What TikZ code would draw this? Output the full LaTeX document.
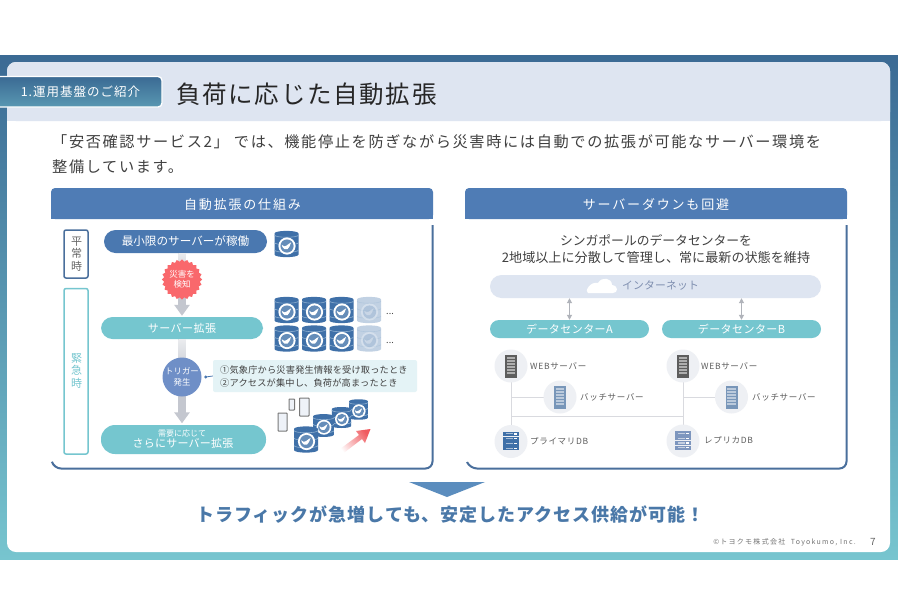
\documentclass[tikz,border=0pt]{standalone}
\usepackage{fontspec}
\setmainfont{Noto Sans CJK JP}
\usetikzlibrary{calc,arrows.meta,shapes.geometric}
\definecolor{bgtop}{HTML}{3B6A94}
\definecolor{bgbot}{HTML}{77C5CF}
\definecolor{band}{HTML}{DEE5F1}
\definecolor{hdr}{HTML}{4F7CB5}
\definecolor{frame}{HTML}{4A6F9C}
\definecolor{pillblue}{HTML}{4A78B0}
\definecolor{teal}{HTML}{75C6CF}
\definecolor{txt}{HTML}{404040}
\definecolor{grayarrow}{HTML}{C4C7CF}
\definecolor{dbblue}{HTML}{3F70A8}
\definecolor{dbline}{HTML}{8FB0D0}
\definecolor{disc}{HTML}{EEF0F4}
\definecolor{wire}{HTML}{D9DADF}
\definecolor{burstred}{HTML}{F9686C}
\definecolor{trigblue}{HTML}{6F8FC7}
\definecolor{condbg}{HTML}{E4F3F6}
\definecolor{redarrow}{HTML}{F05A5F}
\definecolor{inettxt}{HTML}{7F8FB0}
\definecolor{batch}{HTML}{7896B9}
\definecolor{replica}{HTML}{7D96BE}
\definecolor{tri}{HTML}{5B8DBE}
\definecolor{concl}{HTML}{4A78A8}
\newcommand{\fsz}[2]{\addfontfeature{LetterSpace=#1}\fontsize{#2}{#2}\selectfont}
\newcommand{\fszb}[2]{\fontsize{#1}{#2}\selectfont}
\tikzset{
  pill/.style={rounded corners=11.5pt,text=white,inner sep=0pt,align=center},
  hdrtext/.style={text=white,font=\fsz{14}{13}},
  labeltext/.style={anchor=west,text=txt!85,inner sep=0pt,font=\fsz{8}{8.5}},
  disc node/.style={circle,fill=disc,minimum size=33pt,inner sep=0pt},
  wireline/.style={draw=wire,line width=1pt},
  blockarrow/.style={draw=grayarrow,line width=7.5pt,-{Triangle[width=15pt,length=11pt]}},
  dblarrow/.style={draw=grayarrow!90!black,line width=1pt,{Triangle[width=5pt,length=5pt]}-{Triangle[width=5pt,length=5pt]}},
  phone/.style={draw=txt!70,fill=band!50,line width=1pt,rounded corners=.6pt},
  dbicon/.pic={
    \fill[dbblue] (-12,-10.5) .. controls (-12,-14) and (12,-14) .. (12,-10.5) -- (12,10.5) .. controls (12,14) and (-12,14) .. (-12,10.5) -- cycle;
    \draw[dbline,line width=.6pt] (-12,-9) .. controls (-12,-6) and (12,-6) .. (12,-9);
    \draw[dbline,line width=.6pt] (-12,-1.5) .. controls (-12,1.5) and (12,1.5) .. (12,-1.5);
    \draw[dbline,line width=.6pt] (-12,6) .. controls (-12,9) and (12,9) .. (12,6);
    \fill[white] (.5,2) circle (8.6pt);
    \fill[dbblue!80] (.5,2) circle (6.6pt);
    \fill[white] (-4.8,.8) .. controls (-3,3) and (-1.2,2.6) .. (.4,1.4) .. controls (1.6,.4) and (2.4,-.4) .. (4.6,-1.6) .. controls (4.4,.2) and (4,1.4) .. (3,2.6) .. controls (2.4,5) and (0,6) .. (-2,5) .. controls (-3.6,4.2) and (-4.4,2.8) .. (-4.8,.8) -- cycle;
  },
  towericon/.pic={
    \fill[pic actions] (-6,-11.5) rectangle (6,11.5);
    \foreach \yy in {-9.5,-6.5,-3.5,-.5,2.5,5.5}{\fill[white,opacity=.5] (-4.2,\yy) rectangle (4.2,\yy+2);}
  },
  dbstack/.pic={
    \foreach \yy in {-9.7,-4.9,-.1,4.7}{
      \fill[pic actions] (-8,\yy) rectangle (8,\yy+4.2);
      \fill[white] (3,\yy+1.4) rectangle (5.6,\yy+2.7);
      \fill[white,opacity=.55] (-5.5,\yy+1.5) rectangle (1.5,\yy+2.6);
    }
  },
}
\begin{document}
\begin{tikzpicture}[x=1pt,y=-1pt]
\useasboundingbox (0,0) rectangle (898,614);
% ---- slide
\shade[top color=bgtop,bottom color=bgbot] (0,55) rectangle (898,559);
\fill[white,rounded corners=9pt] (7,62) rectangle (890,552);
\fill[band,rounded corners=9pt] (7,121) -- (7,62) -- (890,62) -- (890,121) -- cycle;
\fill[band] (7,100) rectangle (890,121);
\shade[top color=bgtop,bottom color=bgtop!50!bgbot,draw=white,line width=1.3pt,rounded corners=4pt] (-4,76.5) rectangle (162,107);
\node[text=white,inner sep=0pt,font=\fsz{8}{12.5}] (tab) at (80.5,91.5) {1.運用基盤のご紹介};
\node[anchor=west,inner sep=0pt,text=black!85,font=\fsz{7}{24.5}] (title) at (176,94) {負荷に応じた自動拡張};
\node[anchor=west,inner sep=0pt,text=txt,font=\fsz{10.7}{15.2}] (lead1) at (52,142) {「安否確認サービス2」 では、機能停止を防ぎながら災害時には自動での拡張が可能なサーバー環境を};
\node[anchor=west,inner sep=0pt,text=txt,font=\fsz{10.7}{15.2}] (lead2) at (52,167) {整備しています。};
% ---- left panel
\fill[hdr,rounded corners=4pt] (51,219) -- (51,188) -- (433,188) -- (433,219) -- cycle;
\fill[hdr] (51,210) rectangle (433,219);
\node[hdrtext] (hl) at (242.5,204.5) {自動拡張の仕組み};
\draw[frame,line width=2pt,rounded corners=7pt] (432.5,225) -- (432.5,468.5) -- (54,468.5) -- (52,462);
\draw[frame,line width=1.5pt,rounded corners=2pt,fill=white] (64,230) rectangle (88,278);
\node[text=txt!80,align=center,inner sep=0pt,font=\fszb{11}{12.6}] (normal) at (76.5,254) {平\\常\\時};
\draw[teal,line width=1.5pt,rounded corners=2pt,fill=white] (64,288.5) rectangle (88,454);
\node[text=teal,align=center,inner sep=0pt,font=\fszb{11}{12.8}] (emerg) at (76.5,371) {緊\\急\\時};
\node[pill,fill=pillblue,minimum width=163pt,minimum height=23pt,font=\fszb{11.6}{12}] (p1) at (185.5,241.5) {最小限のサーバーが稼働};
\node[pill,fill=teal,minimum width=162pt,minimum height=22pt,font=\fsz{4}{11}] (p2) at (182,328) {サーバー拡張};
\node[pill,fill=teal,rounded corners=14pt,minimum width=165pt,minimum height=29pt] (p3) at (183.5,439.5) {};
\node[text=white,inner sep=0pt,font=\fszb{8}{8}] (p3a) at (182,433) {需要に応じて};
\node[text=white,inner sep=0pt,font=\fsz{2}{11}] (p3b) at (183,443.5) {さらにサーバー拡張};
\coordinate (trigc) at (182,377);
\coordinate (burstc) at (182,279.5);
\draw[blockarrow] (p1.south -| burstc) -- ($(p2.north -| burstc)+(0,-1)$);
\draw[blockarrow] (p2.south -| trigc) -- ($(p3.north -| trigc)+(0,-1.5)$);
\shade[top color=grayarrow!35,bottom color=grayarrow] ($(p1.south -| burstc)+(-3.75,0)$) rectangle ($(burstc)+(3.75,0)$);
\shade[top color=grayarrow!35,bottom color=grayarrow] ($(p2.south -| trigc)+(-3.75,0)$) rectangle ($(trigc)+(3.75,0)$);
\node[star,star points=24,star point ratio=1.12,fill=burstred,minimum size=39pt,inner sep=0pt,text=white,align=center,font=\fszb{8.5}{10}] (burst) at (burstc) {災害を\\検知};
\node[circle,fill=trigblue,minimum size=39pt,inner sep=0pt,text=white,align=center,font=\fszb{8.4}{11}] (trig) at (trigc) {トリガー\\発生};
\node[fill=condbg,rounded corners=2pt,minimum width=204pt,minimum height=32pt,inner sep=0pt] (cond) at (315,376) {};
\node[anchor=west,inner sep=0pt,text=txt,font=\fsz{2}{9.2}] (c1) at (220,370) {①気象庁から災害発生情報を受け取ったとき};
\node[anchor=west,inner sep=0pt,text=txt,font=\fsz{2}{9.2}] (c2) at (220,383) {②アクセスが集中し、負荷が高まったとき};
\draw[pillblue,line width=.8pt] (trig.east) ++(4,0) coordinate (dot) -- (cond.west);
\fill[pillblue] (dot) circle (1.6pt);
% db icons
\pic at (286.5,244) {dbicon};
\foreach \cx/\op in {286.5/1,314/1,341.5/1,369/.32}{
  \pic[opacity=\op] at (\cx,310) {dbicon};
  \pic[opacity=\op] at (\cx,338.5) {dbicon};
}
\node[inner sep=0pt,text=txt,font=\fszb{9}{9}] (dots1) at (390,314) {...};
\node[inner sep=0pt,text=txt,font=\fszb{9}{9}] (dots2) at (390,343) {...};
\draw[phone] (278,413) rectangle (287,431);
\draw[phone] (289,399) rectangle (294.5,410);
\draw[phone] (299.5,398) rectangle (309,416);
\pic[scale=.78] at (358.5,409.5) {dbicon};
\pic[scale=.8] at (341.5,417.5) {dbicon};
\pic[scale=.87] at (323.5,425.5) {dbicon};
\pic[scale=1] at (306,439.5) {dbicon};
\shade[top color=redarrow,bottom color=white,shading angle=-53]
  (338,450.5) -- (359,435) -- (356,431) -- (370.5,429) -- (365,443) -- (362,439) -- (341,455) -- cycle;
% ---- right panel
\fill[hdr,rounded corners=4pt] (465,219) -- (465,188) -- (847,188) -- (847,219) -- cycle;
\fill[hdr] (465,210) rectangle (847,219);
\node[hdrtext] (hr) at (656,204.5) {サーバーダウンも回避};
\draw[frame,line width=2pt,rounded corners=7pt] (846.5,225) -- (846.5,468.5) -- (470,468.5) -- (467,462);
\node[inner sep=0pt,text=txt,font=\fszb{12.8}{14}] (r1) at (656,240) {シンガポールのデータセンターを};
\node[inner sep=0pt,text=txt,font=\fszb{13.1}{14}] (r2) at (656,258) {2地域以上に分散して管理し、常に最新の状態を維持};
\node[pill,fill=band,minimum width=331pt,minimum height=23pt] (inet) at (655.5,286.5) {};
\fill[white] (588,293) -- (613,293) .. controls (618,293) and (619,286) .. (612,285) .. controls (612,278) and (602,276) .. (598,283) .. controls (590,281) and (584,292) .. (588,293) -- cycle;
\node[inner sep=0pt,text=inettxt,font=\fsz{2}{10.8}] (inettext) at (660.5,286) {インターネット};
\node[pill,fill=teal,rounded corners=9pt,minimum width=159pt,minimum height=18pt,font=\fsz{4}{11}] (dca) at (569.5,329) {データセンターA};
\node[pill,fill=teal,rounded corners=9pt,minimum width=159pt,minimum height=18pt,font=\fsz{4}{11}] (dcb) at (741.5,329) {データセンターB};
\draw[dblarrow] (inet.south -| dca) -- (dca.north);
\draw[dblarrow] (inet.south -| dcb) -- (dcb.north);
% servers
\coordinate (c1a) at (511,366);
\coordinate (c2a) at (560,397);
\coordinate (c3a) at (511,441.5);
\coordinate (c1b) at (683,366);
\coordinate (c2b) at (731.5,397);
\coordinate (c3b) at (683,441);
\draw[wireline] (c1a) -- (c3a);
\draw[wireline] (c1b) -- (c3b);
\draw[wireline] (c1a |- c2a) -- (c2a);
\draw[wireline] (c1b |- c2b) -- (c2b);
\draw[wireline] (511,416.5) -- (683,416.5);
\node[disc node] (webA) at (c1a) {};
\node[disc node] (batA) at (c2a) {};
\node[disc node] (priA) at (c3a) {};
\node[disc node] (webB) at (c1b) {};
\node[disc node] (batB) at (c2b) {};
\node[disc node] (repB) at (c3b) {};
\pic[fill=txt!85] at (webA) {towericon};
\pic[fill=txt!85] at (webB) {towericon};
\pic[fill=batch] at (batA) {towericon};
\pic[fill=batch] at (batB) {towericon};
\pic[fill=dbblue] at (priA) {dbstack};
\pic[fill=replica] at (repB) {dbstack};
\node[labeltext] (l1) at (530,366) {WEBサーバー};
\node[labeltext] (l2) at (580,397) {バッチサーバー};
\node[labeltext] (l3) at (530,441) {プライマリDB};
\node[labeltext] (l4) at (701,366) {WEBサーバー};
\node[labeltext] (l5) at (752,397) {バッチサーバー};
\node[labeltext] (l6) at (704,440) {レプリカDB};
% ---- conclusion
\fill[tri] (409,482) -- (485,482) -- (447,497) -- cycle;
\node[inner sep=0pt,text=concl,font=\bfseries\fsz{5.5}{18}] (conclusion) at (450.5,515) {トラフィックが急増しても、安定したアクセス供給が可能！};
\node[anchor=east,inner sep=0pt,text=black!55,font=\fsz{18}{7}] (copy) at (856,542) {©トヨクモ株式会社\ \ Toyokumo, Inc.};
\node[inner sep=0pt,text=black!60,font=\fszb{10}{10}] (pg) at (873,542) {7};
\end{tikzpicture}
\end{document}
